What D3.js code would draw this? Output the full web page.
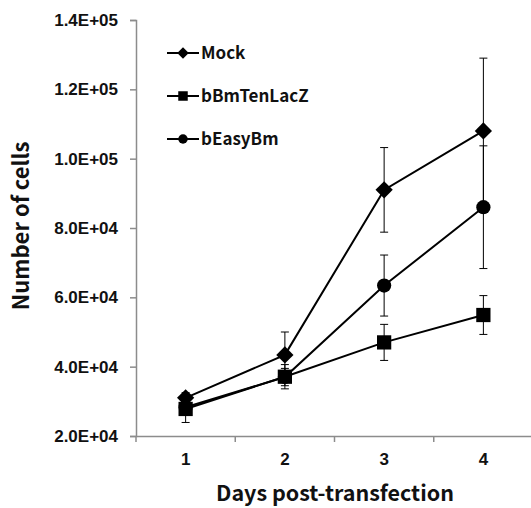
<!DOCTYPE html>
<html>
<head>
<meta charset="utf-8">
<script src="https://cdn.jsdelivr.net/npm/d3@7"></script>
<style>
  body { margin: 0; background: #fff; }
  svg { display: block; font-family: "Noto Sans CJK KR", "Open Sans", sans-serif; font-weight: bold; }
</style>
</head>
<body>
<div id="chart"></div>
<script>
'use strict';

const days = ['1', '2', '3', '4'];
const yTicks = [20000, 40000, 60000, 80000, 100000, 120000, 140000];

const mockVals = [31000, 43400, 91000, 108000];
const mockErr = [1500, 6600, 12200, 21000];
const laczVals = [27800, 37100, 47000, 54900];
const laczErr = [3900, 3500, 5200, 5600];
const easyVals = [28300, 37000, 63400, 86000];
const easyErr = [2000, 2500, 8800, 17700];

const seriesNames = ['Mock', 'bBmTenLacZ', 'bEasyBm'];
const seriesShapes = ['diamond', 'square', 'circle'];

let width = 531, height = 508;

let svg = d3.select('#chart').append('svg')
  .attr('width', width)
  .attr('height', height);

let x = d3.scaleBand()
  .domain(days)
  .range([136, 533]);

let y = d3.scaleLinear()
  .domain([20000, 140000])
  .range([436, 20]);

function sci (v) {
  let s = v.toExponential(1).toUpperCase();
  return s.replace(/E\+(\d)$/, 'E+0$1');
}

// y axis
let yAxis = d3.axisLeft(y).tickValues(yTicks).tickSize(6).tickPadding(12).tickFormat(sci);
let gy = svg.append('g').attr('transform', 'translate(136,0)').call(yAxis);
gy.select('.domain').attr('stroke', '#8c8c8c').attr('stroke-width', 1.5);
gy.selectAll('.tick line').attr('stroke', '#8c8c8c').attr('stroke-width', 1.5);
gy.selectAll('.tick text').attr('font-size', 17).attr('fill', '#111').attr('font-family', 'inherit');

// x axis
let xAxis = d3.axisBottom(x).tickSize(0).tickPadding(17);
let gx = svg.append('g').attr('transform', 'translate(0,436)').call(xAxis);
gx.select('.domain').attr('stroke', '#8c8c8c').attr('stroke-width', 1.5);
gx.selectAll('.tick text').attr('font-size', 17).attr('fill', '#111').attr('font-family', 'inherit');
gx.selectAll('.edge')
  .data(days)
  .enter().append('line')
    .attr('x1', (d) => x(d))
    .attr('x2', (d) => x(d))
    .attr('y1', 0)
    .attr('y2', 6)
    .attr('stroke', '#8c8c8c')
    .attr('stroke-width', 1.5);

// axis titles
svg.append('text')
  .attr('x', 335)
  .attr('y', 501)
  .attr('text-anchor', 'middle')
  .attr('font-size', 21.5)
  .attr('fill', '#111')
  .text('Days post-transfection');

svg.append('text')
  .attr('transform', 'translate(29,226) rotate(-90)')
  .attr('text-anchor', 'middle')
  .attr('font-size', 22)
  .attr('fill', '#111')
  .text('Number of cells');

function drawMarker (g, shape, cx, cy, s) {
  if (shape === 'diamond') {
    g.append('path')
      .attr('d', `M${cx},${cy - s * 1.15}L${cx + s * 1.15},${cy}L${cx},${cy + s * 1.15}L${cx - s * 1.15},${cy}Z`)
      .attr('fill', '#000');
  } else if (shape === 'square') {
    g.append('rect')
      .attr('x', cx - s * 0.95).attr('y', cy - s * 0.95)
      .attr('width', s * 1.9).attr('height', s * 1.9)
      .attr('fill', '#000');
  } else {
    g.append('circle')
      .attr('cx', cx).attr('cy', cy).attr('r', s * 0.95)
      .attr('fill', '#000');
  }
}

let allSeries = [
  {name: 'Mock', vals: mockVals, err: mockErr},
  {name: 'bBmTenLacZ', vals: laczVals, err: laczErr},
  {name: 'bEasyBm', vals: easyVals, err: easyErr}
];

let cx = (d) => x(d) + x.bandwidth() / 2;

let line = d3.line()
  .x((d, i) => cx(days[i]))
  .y((d) => y(d));

allSeries.forEach((s, k) => {
  let g = svg.append('g');

  // error bars
  s.vals.forEach((v, i) => {
    let px = cx(days[i]);
    let top = y(v + s.err[i]), bot = y(v - s.err[i]);
    g.append('line').attr('x1', px).attr('x2', px).attr('y1', top).attr('y2', bot)
      .attr('stroke', '#000').attr('stroke-width', 1);
    [top, bot].forEach((yy) => {
      g.append('line').attr('x1', px - 4).attr('x2', px + 4).attr('y1', yy).attr('y2', yy)
        .attr('stroke', '#000').attr('stroke-width', 1);
    });
  });

  g.append('path')
    .attr('d', line(s.vals))
    .attr('fill', 'none')
    .attr('stroke', '#000')
    .attr('stroke-width', 2);

  s.vals.forEach((v, i) => {
    drawMarker(g, seriesShapes[k], cx(days[i]), y(v), 7.5);
  });
});

// legend
seriesNames.forEach((n, i) => {
  let ly = 53 + i * 43;
  let g = svg.append('g');
  g.append('line').attr('x1', 167).attr('x2', 199).attr('y1', ly).attr('y2', ly)
    .attr('stroke', '#000').attr('stroke-width', 2);
  drawMarker(g, seriesShapes[i], 183, ly, 5);
  g.append('text')
    .attr('x', 201)
    .attr('y', ly + 6)
    .attr('font-size', 17)
    .attr('fill', '#111')
    .text(n);
});
</script>
</body>
</html>
